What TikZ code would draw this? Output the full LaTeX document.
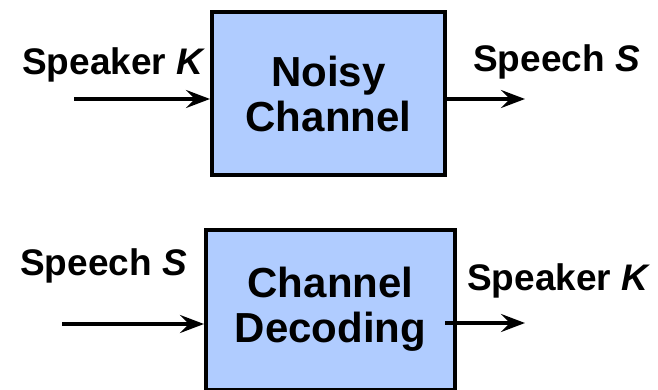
\documentclass[tikz,border=0pt]{standalone}
\usepackage{fontspec}
\setmainfont{Liberation Sans}
\usetikzlibrary{arrows.meta}
\definecolor{boxblue}{RGB}{176,204,255}
\tikzset{
  blockbox/.style={draw=black, line width=4pt, fill=boxblue, align=center,
    font=\fontsize{42}{45}\selectfont\bfseries, inner sep=0pt},
  lbl/.style={anchor=base west, inner sep=0pt, font=\fontsize{37}{40}\selectfont\bfseries},
  flow/.style={line width=4pt, -{Stealth[length=24pt,width=18pt,inset=9pt]}}
}
\begin{document}
\begin{tikzpicture}[x=1pt,y=-1pt]
\useasboundingbox (0,0) rectangle (658,390);
% boxes
\node[blockbox, minimum width=233pt, minimum height=163pt] (nc) at (328.5,93.5) {Noisy\\Channel};
\node[blockbox, minimum width=249pt, minimum height=160pt] (cd) at (330.5,309.5) {Channel\\Decoding};
% labels
\node[lbl] (l1) at (22,75) {Speaker \textit{K}};
\node[lbl] (l2) at (473,72) {Speech \textit{S}};
\node[lbl] (l3) at (20,275) {Speech \textit{S}};
\node[lbl] (l4) at (467,290) {Speaker \textit{K}};
% connector end points
\coordinate (a1) at (74,99);
\coordinate (a2) at (525,99);
\coordinate (b1) at (62,324);
\coordinate (b0) at (445,323);
\coordinate (b2) at (525,323);
% connectors
\draw[flow] (a1) -- (a1 -| nc.west);
\draw[flow] (a2 -| nc.east) -- (a2);
\draw[flow] (b1) -- (b1 -| cd.west);
\draw[flow] (b0) -- (b2);
\end{tikzpicture}
\end{document}
